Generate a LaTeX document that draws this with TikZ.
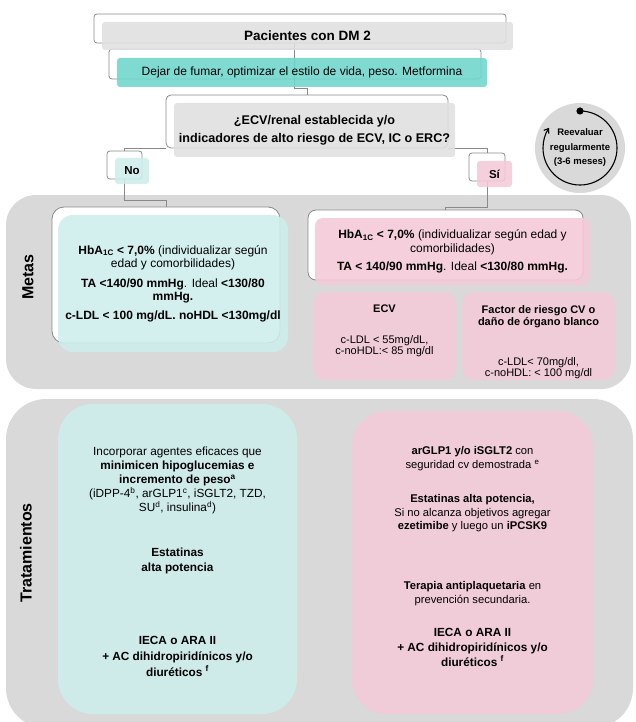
\documentclass[tikz,border=0pt]{standalone}
\usepackage{fontspec}
\setmainfont{Liberation Sans}
\usetikzlibrary{arrows.meta,calc}
\definecolor{panelgray}{HTML}{D9D9D9}
\definecolor{boxgray}{HTML}{E0E0E0}
\definecolor{tealc}{HTML}{6ED6CC}
\definecolor{lteal}{HTML}{CDEEEC}
\definecolor{pinkc}{HTML}{F4CAD8}
\definecolor{linegray}{HTML}{8A8A8A}
\definecolor{circgray}{HTML}{D9D9D9}
\newcommand\fsz[2]{\fontsize{#1}{#2}\selectfont}
\newcommand\mybox[7]{\node[#6, minimum width={#4-#2}, minimum height={#5-#3}] (#1) at ({(#2+#4)/2},{(#3+#5)/2}) {#7};}
\begin{document}
\begin{tikzpicture}[x=1pt,y=-1pt,
  conn/.style={draw=linegray, line width=0.8pt},
  outl/.style={draw=linegray, line width=0.8pt, fill=white, rounded corners=#1, inner sep=0pt, outer sep=0pt},
  fillbox/.style={fill=#1, draw=none, fill opacity=0.88, text opacity=1, rounded corners=3pt, inner sep=0pt, outer sep=0pt, align=center},
  panel/.style={fill=panelgray, draw=none, rounded corners=#1, inner sep=0pt, outer sep=0pt},
  lbl/.style={font=\bfseries\fsz{16}{18}, inner sep=0pt},
  txt/.style={align=center, inner sep=0pt, font=\fsz{11.8}{14.2}},
]
\useasboundingbox (0,0) rectangle (635,722);
\clip (0,0) rectangle (635,722);
% panels
\mybox{pm}{6}{195}{631}{389}{panel=30pt}{}
\mybox{pt}{6}{399}{633}{728}{panel=40pt}{}
\node[lbl, rotate=90] (lm) at (28,277) {Metas};
\node[lbl, rotate=90] (lt) at (26,553) {Tratamientos};
% outlines
\mybox{p1}{94}{14}{506}{43}{outl=3pt}{}
\mybox{d1}{109}{49}{481}{79}{outl=3pt}{}
\mybox{q1}{166}{95}{448}{148}{outl=5pt}{}
\mybox{n1}{107}{151}{142}{179}{outl=3pt}{}
\mybox{s1}{469}{153}{505}{181}{outl=3pt}{}
\mybox{m1}{52}{207}{280}{343}{outl=12pt}{}
\mybox{r1}{308}{210}{583}{280}{outl=8pt}{}
% connectors
\draw[conn] ([xshift=-6pt]p1.south) -- ++(0,45) -| (q1.north);
\draw[conn] (q1.south west) -| (n1.north);
\draw[conn] (q1.south east) -| (s1.north);
\draw[conn] (n1.south) -- ++(0,21) -| (m1.north);
\draw[conn] (s1.south) -- ++(0,26) -| (r1.north);
% filled boxes
\mybox{p2}{102}{22}{513}{50}{fillbox=boxgray, font=\bfseries\fsz{13.5}{16}}{Pacientes con DM 2}
\mybox{d2}{117}{58}{487}{87}{fillbox=tealc, font=\fsz{12}{14}}{Dejar de fumar, optimizar el estilo de vida, peso. Metformina}
\mybox{q2}{174}{103}{455}{157}{fillbox=boxgray, font=\bfseries\fsz{12.6}{18}}{¿ECV/renal establecida y/o\\ indicadores de alto riesgo de ECV, IC o ERC?}
\mybox{n2}{115}{158}{149}{184}{fillbox=lteal, font=\bfseries\fsz{11.5}{14}}{No}
\mybox{s2}{477}{161}{512}{187}{fillbox=pinkc, font=\bfseries\fsz{11.5}{14}}{Sí}
\mybox{m2}{58}{215}{288}{352}{fillbox=lteal, rounded corners=15pt, font=\fsz{12}{13.5}}{\textbf{HbA\textsubscript{1C} < 7,0\%} (individualizar según\\ edad y comorbilidades)\\[6pt]\textbf{TA <140/90 mmHg}. Ideal \textbf{<130/80}\\ \textbf{mmHg.}\\[5pt]\textbf{c-LDL < 100 mg/dL. noHDL <130mg/dl}}
\mybox{r2}{315}{218}{590}{285}{fillbox=pinkc, rounded corners=8pt, font=\fsz{12}{14}}{\textbf{HbA\textsubscript{1C} < 7,0\%} (individualizar según edad y\\ comorbilidades)\\[4pt]\textbf{TA < 140/90 mmHg}. Ideal \textbf{<130/80 mmHg.}}
\mybox{e1}{313}{292}{456}{380}{fillbox=pinkc, rounded corners=12pt}{}
\mybox{f1}{462}{292}{615}{380}{fillbox=pinkc, rounded corners=12pt}{}
\mybox{t1}{58}{404}{297}{714}{fillbox=lteal, rounded corners=35pt}{}
\mybox{t2}{352}{411}{593}{714}{fillbox=pinkc, rounded corners=35pt}{}
% ECV texts
\node[txt, font=\bfseries\fsz{11}{12}] (e1a) at (384.5,309) {ECV};
\node[txt, font=\fsz{11}{11.5}] (e1b) at (384.5,346) {c-LDL < 55mg/dL,\\ c-noHDL:< 85 mg/dl};
\node[txt, font=\bfseries\fsz{11}{12}] (f1a) at (538.5,317) {Factor de riesgo CV o\\ daño de órgano blanco};
\node[txt, font=\fsz{11}{11.5}] (f1b) at (538.5,368) {c-LDL< 70mg/dl,\\ c-noHDL: < 100 mg/dl};
% tratamientos left
\node[txt] (ta) at (177.5,480.5) {Incorporar agentes eficaces que\\ \textbf{minimicen hipoglucemias e}\\ \textbf{incremento de peso\textsuperscript{a}}\\ (iDPP-4\textsuperscript{b}, arGLP1\textsuperscript{c}, iSGLT2, TZD,\\ SU\textsuperscript{d}, insulina\textsuperscript{d})};
\node[txt, font=\bfseries\fsz{11.8}{15}] (tb) at (177.5,560.5) {Estatinas\\ alta potencia};
\node[txt, font=\bfseries\fsz{11.8}{16}] (tc) at (177.5,656) {IECA o ARA II\\ + AC dihidropiridínicos y/o\\ diuréticos \textsuperscript{f}};
% tratamientos right
\node[txt, font=\fsz{11.2}{13.5}] (ua) at (472.5,458.5) {\textbf{arGLP1 y/o iSGLT2} con\\ seguridad cv demostrada \textsuperscript{e}};
\node[txt, font=\fsz{11.2}{13.5}] (ub) at (472.5,513.5) {\textbf{Estatinas alta potencia,}\\ Si no alcanza objetivos agregar\\ \textbf{ezetimibe} y luego un \textbf{iPCSK9}};
\node[txt, font=\fsz{11.2}{13.5}] (uc) at (472.5,593.5) {\textbf{Terapia antiplaquetaria} en\\ prevención secundaria.};
\node[txt, font=\bfseries\fsz{11.8}{15}] (ud) at (472.5,647) {IECA o ARA II\\ + AC dihidropiridínicos y/o\\ diuréticos \textsuperscript{f}};
% reevaluar circle
\node[circle, fill=circgray, minimum size=90pt, inner sep=0pt] (re) at (580,148) {};
\node[txt, font=\bfseries\fsz{9.5}{14.5}] (ret) at (re.center) {Reevaluar\\ regularmente\\ (3-6 meses)};
\begin{scope}[y=1pt]
\draw[line width=1.1pt, -{Straight Barb[length=4pt,width=6pt]}] ([shift={(90:37pt)}]re.center) arc[start angle=90, end angle=-213, radius=37pt];
\fill ([shift={(90:37pt)}]re.center) circle[radius=3.6pt];
\end{scope}
\end{tikzpicture}
\end{document}
